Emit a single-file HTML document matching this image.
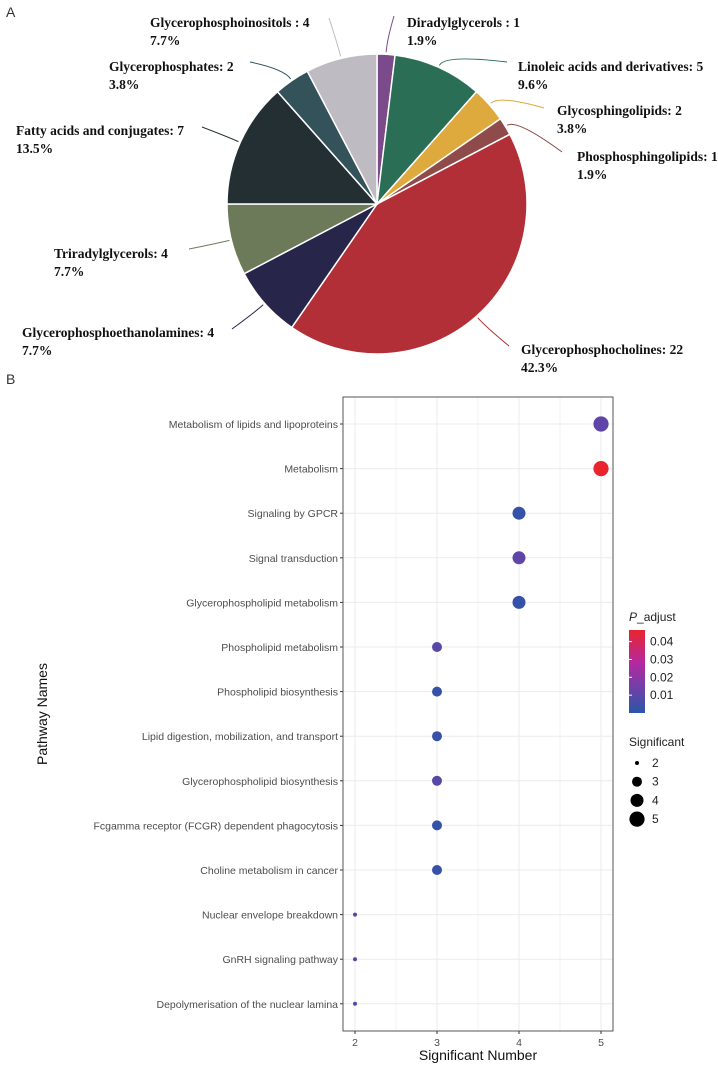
<!DOCTYPE html>
<html><head><meta charset="utf-8"><style>
body{margin:0;background:#fff;width:718px;height:1066px;overflow:hidden}
svg{display:block}
.pl{font-family:"Liberation Serif",serif;font-weight:bold;font-size:13.5px;fill:#111}
.ax{font-family:"Liberation Sans",sans-serif;font-size:10.5px;fill:#4d4d4d}
.lg{font-family:"Liberation Sans",sans-serif;font-size:12px;fill:#222}
</style></head><body>
<svg id="s" width="718" height="1066">
<text x="6" y="17" font-family="Liberation Sans" font-size="14" fill="#333">A</text>
<text x="6" y="384" font-family="Liberation Sans" font-size="14" fill="#333">B</text>
<g id="pie"></g>
<g id="dot"></g>
</svg>
<script>
const pieCats=["Diradylglycerols : 1","Linoleic acids and derivatives: 5","Glycosphingolipids: 2","Phosphosphingolipids: 1","Glycerophosphocholines: 22","Glycerophosphoethanolamines: 4","Triradylglycerols: 4","Fatty acids and conjugates: 7","Glycerophosphates: 2","Glycerophosphoinositols : 4"];
const pieVals=[1,5,2,1,22,4,4,7,2,4];
const piePct=["1.9%","9.6%","3.8%","1.9%","42.3%","7.7%","7.7%","13.5%","3.8%","7.7%"];
const pathways=["Metabolism of lipids and lipoproteins","Metabolism","Signaling by GPCR","Signal transduction","Glycerophospholipid metabolism","Phospholipid metabolism","Phospholipid biosynthesis","Lipid digestion, mobilization, and transport","Glycerophospholipid biosynthesis","Fcgamma receptor (FCGR) dependent phagocytosis","Choline metabolism in cancer","Nuclear envelope breakdown","GnRH signaling pathway","Depolymerisation of the nuclear lamina"];
const sigNum=[5,5,4,4,4,3,3,3,3,3,3,2,2,2];
const padj=[0.009,0.046,0.002,0.009,0.002,0.008,0.002,0.002,0.008,0.002,0.002,0.006,0.006,0.006];
const xTicks=[2,3,4,5];
const padjTicks=[0.01,0.02,0.03,0.04];
const sizeTicks=[2,3,4,5];

const NS="http://www.w3.org/2000/svg";
function mk(tag,attrs,parent,txt){const e=document.createElementNS(NS,tag);for(const k in attrs)e.setAttribute(k,attrs[k]);if(txt!==undefined)e.textContent=txt;parent.appendChild(e);return e;}

// PIE
const pie=document.getElementById('pie');
const colors=["#7b4a8a","#2a6e55","#deaa3e","#8f4a4a","#b22f37","#28254a","#6d7a5a","#232f33","#33525a","#bfbbc3"];
const labelPos=[[407,27],[518,71],[557,115],[577,161],[521,354],[22,337],[54,258],[16,135],[109,71],[150,27]];
const lineEnd=[[394,16],[507,62],[544,108],[562,152],[509,346],[232,329],[189,249],[202,127],[250,62],[329,18]];
const cx=377,cy=204,R=150;
const total=pieVals.reduce((a,b)=>a+b,0);
let acc=0;
pieVals.forEach((v,i)=>{
  const a0=acc/total*2*Math.PI;acc+=v;const a1=acc/total*2*Math.PI;
  const p=(a)=>[cx+R*Math.sin(a),cy-R*Math.cos(a)];
  const [x0,y0]=p(a0),[x1,y1]=p(a1);
  const large=(a1-a0)>Math.PI?1:0;
  const s=mk('path',{d:`M${cx},${cy}L${x0},${y0}A${R},${R} 0 ${large} 1 ${x1},${y1}Z`,fill:colors[i],stroke:"#fff","stroke-width":1.5},pie);
  
  
  const am=(a0+a1)/2;const [ex,ey]=[cx+(R+2)*Math.sin(am),cy-(R+2)*Math.cos(am)];
  const [mx,my]=[cx+(R+14)*Math.sin(am),cy-(R+14)*Math.cos(am)];
  const le=lineEnd[i];
  const l=mk('path',{d:`M${ex},${ey}Q${mx},${my} ${le[0]},${le[1]}`,fill:"none",stroke:colors[i],"stroke-width":1},pie);
  
  
  const t=mk('text',{x:labelPos[i][0],y:labelPos[i][1],class:"pl"},pie,pieCats[i]);
  
  
  const t2=mk('text',{x:labelPos[i][0],y:labelPos[i][1]+18,class:"pl"},pie,piePct[i]);
  
  
});

// DOT PLOT
const dot=document.getElementById('dot');
const L=343,Rr=613,T=397,B=1031;
const xs=v=>355+(v-2)*82;
const ys=i=>424+i*44.6;
const rs=v=>[0,0,2,5,6.5,7.6][v];
function col(p){const t=Math.min(1,p/0.046);
  const stops=[[0,[42,86,168]],[0.25,[110,64,168]],[0.55,[180,40,160]],[1,[232,37,47]]];
  for(let k=1;k<stops.length;k++){if(t<=stops[k][0]){const f=(t-stops[k-1][0])/(stops[k][0]-stops[k-1][0]);const a=stops[k-1][1],b=stops[k][1];return `rgb(${a.map((c,j)=>Math.round(c+(b[j]-c)*f)).join(',')})`;}}return "rgb(232,37,47)";}
for(let v=2;v<=5;v+=0.5){const g=mk('line',{x1:xs(v),x2:xs(v),y1:T,y2:B,stroke:"#ebebeb","stroke-width":v%1?0.6:1},dot);}
pathways.forEach((n,i)=>{
  const g=mk('line',{x1:L,x2:Rr,y1:ys(i),y2:ys(i),stroke:"#ebebeb","stroke-width":1},dot);
  const tk=mk('line',{x1:L-3,x2:L,y1:ys(i),y2:ys(i),stroke:"#333"},dot);
  const t=mk('text',{x:L-5,y:ys(i)+4,class:"ax","text-anchor":"end"},dot,n);
});
const fr=mk('rect',{x:L,y:T,width:Rr-L,height:B-T,fill:"none",stroke:"#555","stroke-width":1},dot);
xTicks.forEach(v=>{const tk=mk('line',{x1:xs(v),x2:xs(v),y1:B,y2:B+3,stroke:"#333"},dot);
  const t=mk('text',{x:xs(v),y:B+15,class:"ax","text-anchor":"middle","font-size":12},dot,v);});
pathways.forEach((n,i)=>{const c=mk('circle',{cx:xs(sigNum[i]),cy:ys(i),r:rs(sigNum[i]),fill:col(padj[i])},dot);});
const xt=mk('text',{x:478,y:1060,"font-family":"Liberation Sans","font-size":14,fill:"#111","text-anchor":"middle"},dot,"Significant Number");
const yt=mk('text',{x:0,y:0,"font-family":"Liberation Sans","font-size":14,fill:"#111","text-anchor":"middle",transform:"translate(47,714) rotate(-90)"},dot,"Pathway Names");
const pt=mk('text',{x:629,y:621,class:"lg","font-size":13},dot);
pt.innerHTML='<tspan font-style="italic">P</tspan>_adjust';
const defs=mk('defs',{},dot);const lgG=mk('linearGradient',{id:"gr",x1:0,y1:1,x2:0,y2:0},defs);
[[0,"#2a56a8"],[0.3,"#6e40a8"],[0.6,"#b428a0"],[1,"#e8252f"]].forEach(s=>mk('stop',{offset:s[0],"stop-color":s[1]},lgG));
const cbT=630,cbB=713,pmax=0.0465;
const cb=mk('rect',{x:629,y:cbT,width:16,height:cbB-cbT,fill:"url(#gr)"},dot);
padjTicks.forEach(v=>{const y=cbB-(v/pmax)*(cbB-cbT);
  const t=mk('text',{x:650,y:y+4,class:"lg"},dot,v.toFixed(2));
  const tk=mk('line',{x1:629,x2:632,y1:y,y2:y,stroke:"#fff"},dot);});
const st=mk('text',{x:629,y:746,class:"lg","font-size":13},dot,"Significant");
sizeTicks.forEach((v,k)=>{const y=763+k*18.7;
  const c=mk('circle',{cx:637,cy:y,r:rs(v),fill:"#000"},dot);
  const t=mk('text',{x:652,y:y+4,class:"lg"},dot,v);});
</script>
</body></html>
